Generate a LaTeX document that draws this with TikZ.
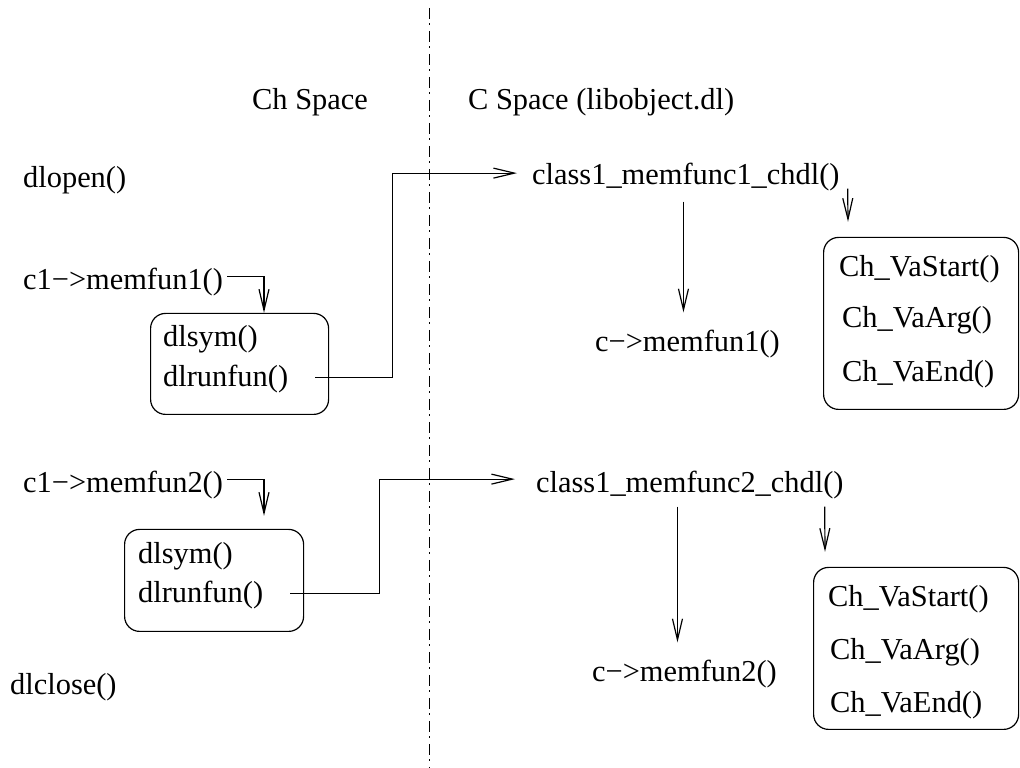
\documentclass[tikz,border=0pt]{standalone}
\usepackage{fontspec}
\setmainfont{Liberation Serif}
\usetikzlibrary{arrows.meta,calc}

\begin{document}
\begin{tikzpicture}[x=1pt, y=1pt,
        txt/.style={inner sep=0pt, anchor=base west, font=\fontsize{30.4}{36}\selectfont},
        rbox/.style={draw, line width=1.2pt, rounded corners=15pt, anchor=south west, inner sep=0pt},
        flow/.style={line width=1.2pt, -{Straight Barb[length=21pt, width=10pt]}},
        divider/.style={line width=1.2pt, dash pattern=on 11pt off 4.5pt on 2pt off 5.5pt}]
        %\draw [help lines] (0,0) grid [step=50] (1020,768);
        \useasboundingbox (0,0) rectangle (1020,768);

        %the line between the two spaces
        \coordinate (divtop) at (429.5,760);
        \coordinate (divbot) at (429.5,0);
        \draw [divider] (divtop) -- (divbot);

        \node [txt] (chsp) at (252,658) {Ch Space};
        \node [txt] (csp) at (468,658) {C Space (libobject.dl)};

        %the boxes
        \node [rbox, minimum width=178, minimum height=101] (boxA) at (150,353) {};
        \node [rbox, minimum width=179, minimum height=102] (boxB) at (124,136) {};
        \node [rbox, minimum width=195, minimum height=172] (vaboxA) at (823,358) {};
        \node [rbox, minimum width=205, minimum height=162] (vaboxB) at (813,38) {};

        %Ch space
        \node [txt] (dlopen) at (23,580) {dlopen()};
        \node [txt] (callA) at (23,478) {c1−>memfun1()};
        \node [txt] (symA) at (163,421) {dlsym()};
        \node [txt] (runA) at (163,381) {dlrunfun()};
        \node [txt] (callB) at (23,275) {c1−>memfun2()};
        \node [txt] (symB) at (138,204) {dlsym()};
        \node [txt] (runB) at (138,165) {dlrunfun()};
        \node [txt] (dlclose) at (10,73) {dlclose()};

        %C space
        \node [txt] (chdlA) at (532,583) {class1\_memfunc1\_chdl()};
        \node [txt] (resA) at (595,416) {c−>memfun1()};
        \node [txt] (vaA1) at (839,491) {Ch\_VaStart()};
        \node [txt] (vaA2) at (842,440) {Ch\_VaArg()};
        \node [txt] (vaA3) at (842,386) {Ch\_VaEnd()};
        \node [txt] (chdlB) at (536,275) {class1\_memfunc2\_chdl()};
        \node [txt] (resB) at (592,86) {c−>memfun2()};
        \node [txt] (vaB1) at (828,161) {Ch\_VaStart()};
        \node [txt] (vaB2) at (830,108) {Ch\_VaArg()};
        \node [txt] (vaB3) at (830,55) {Ch\_VaEnd()};

        %the calls
        \draw [flow] ($(callA.east)+(4,6.4)$) -| ($(boxA.north west)+(114,0)$);
        \draw [flow] ($(runA.east)+(27,2.4)$) -- ++(77,0) |- ($(chdlA.west)+(-15,4.4)$);
        \draw [flow] ($(chdlA.south -| resA.north)+(-4,-10)$) -- ($(resA.north)+(-4,18)$);
        \draw [flow] ($(chdlA.south east)+(8,3)$) -- ($(vaboxA.north west)+(25,15)$);

        \draw [flow] ($(callB.east)+(4,6.4)$) -| ($(boxB.north west)+(140,13)$);
        \draw [flow] ($(runB.east)+(27,2.4)$) -- ++(89,0) |- ($(chdlB.west)+(-21,6.4)$);
        \draw [flow] ($(chdlB.south -| resB.north)+(-7,-7)$) -- ($(resB.north)+(-7,18)$);
        \draw [flow] ($(chdlB.south east)+(-19,-7)$) -- ($(vaboxB.north west)+(12,15)$);

    \end{tikzpicture}
\end{document}
